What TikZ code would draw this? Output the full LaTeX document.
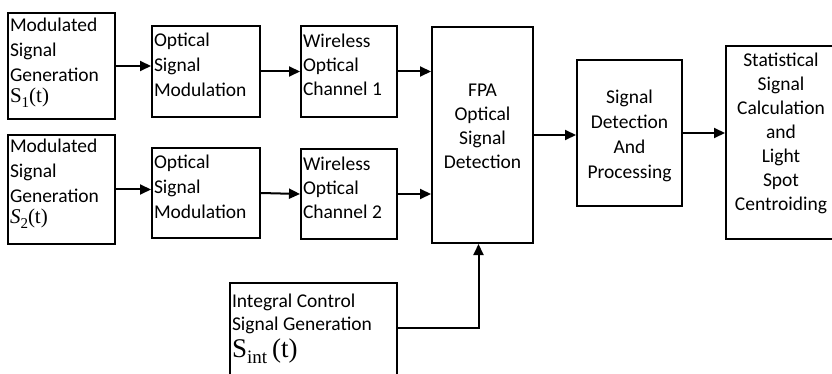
\documentclass[tikz,border=0pt]{standalone}
\usepackage[no-math]{fontspec}
\setmainfont{Carlito}
\newfontfamily\sigfont{Liberation Serif}
\usetikzlibrary{arrows.meta}

% block text: fixed size box, text at the top (default) or centred
\newcommand{\blk}[4][t]{\parbox[c][#3][#1]{#2}{#4}}
% signal names S_x(t), set in a serif face
\newcommand{\sigsub}[2]{\raisebox{-0.22em}{\fontsize{#1}{#1}\selectfont #2}}

\tikzset{
  block/.style={draw, line width=2pt, inner sep=2pt, font=\fontsize{19.5}{25}\selectfont},
  arr/.style={-{Triangle[length=11pt,width=10pt]}, line width=2pt},
}

\begin{document}
\begin{tikzpicture}[x=1pt, y=-1pt]
  \useasboundingbox (0,0) rectangle (832,374);
  \clip (0,0) rectangle (832,374);

  % two transmitter chains
  \node[block] (gen1) at (61.5,66) {\blk{103pt}{102pt}{\vspace*{3pt}Modulated\\Signal\\Generation\\[-4pt]{\fontsize{21}{25}\sigfont S\sigsub{15}{1}(t)}}};
  \node[block] (gen2) at (61.5,189.5) {\blk{103pt}{105pt}{\vspace*{2pt}Modulated\\Signal\\Generation\\[-4pt]{\fontsize{21}{25}\sigfont\itshape S\upshape\sigsub{15}{2}(t)}}};
  \node[block] (mod1) at (206,71.5) {\blk{104pt}{87pt}{\vspace*{5pt}Optical\\Signal\\Modulation}};
  \node[block] (mod2) at (206,193) {\blk{104pt}{86pt}{\vspace*{5pt}Optical\\Signal\\Modulation}};
  \node[block] (chan1) at (349,71.5) {\blk{92pt}{87pt}{\vspace*{6pt}Wireless\\[-1pt]Optical\\[-1pt]Channel 1}};
  \node[block] (chan2) at (349,194) {\blk{92pt}{86pt}{\vspace*{6pt}Wireless\\[-1pt]Optical\\[-1pt]Channel 2}};

  % receiver side
  \node[block] (fpa) at (482.5,135) {\blk[c]{97pt}{212pt}{\centering FPA\\[-1pt]Optical\\[-1pt]Signal\\[-1pt]Detection\par\vspace*{18pt}}};
  \node[block] (proc) at (629.5,133) {\blk[c]{101pt}{142pt}{\centering Signal\\Detection\\And\\Processing\par\vspace*{-6pt}}};
  \node[block] (stat) at (781,142.5) {\blk[c]{106pt}{189pt}{\centering Statistical\\[-1pt]Signal\\[-1pt]Calculation\\[-1pt]and\\[-1pt]Light\\[-1pt]Spot\\[-1pt]Centroiding\par\vspace*{18pt}}};

  % integral control input
  \node[block] (ctrl) at (313.5,339) {\blk{163pt}{108pt}{\vspace*{9pt}Integral Control\\[-2pt]Signal Generation\\[2pt]{\fontsize{27}{25}\sigfont S\sigsub{19}{int}\hspace{5pt}(t)}}};

  \draw[arr] (gen1.east) -- (gen1.east -| mod1.west);
  \draw[arr] (gen2.east) -- (gen2.east -| mod2.west);
  \draw[arr] (mod1.east) -- (chan1.west);
  \draw[arr] (mod2.east) -- (chan2.west);
  \draw[arr] (chan1.east) -- (chan1.east -| fpa.west);
  \draw[arr] (chan2.east) -- (chan2.east -| fpa.west);
  \draw[arr] (fpa.east) -- (fpa.east -| proc.west);
  \draw[arr] (proc.east) -- (proc.east -| stat.west);
  \draw[arr] ([yshift=11pt]ctrl.east) -| ([xshift=-4pt]fpa.south);
\end{tikzpicture}
\end{document}
